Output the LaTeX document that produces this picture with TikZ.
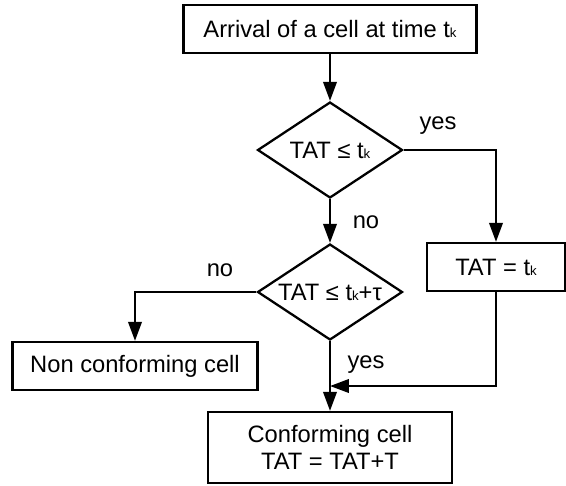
\documentclass[tikz,border=0pt]{standalone}
\usepackage{fontspec}
\setmainfont{Liberation Sans}
\usepackage{tikz}
\usetikzlibrary{shapes.geometric}
\usetikzlibrary{arrows.meta}

\newcommand{\tk}{t{\fontsize{7.5pt}{8pt}\selectfont k}}

\begin{document}
\begin{tikzpicture}[
			     x=0.02cm, y=-0.02cm,
			     every node/.style={font=\fontsize{13.5pt}{15.5pt}\selectfont},
			     stepbox/.style={draw, line width=1.3pt, inner sep=0pt, align=center},
			     test/.style={draw, diamond, line width=1.3pt, inner sep=0pt, minimum width=2.9cm, minimum height=1.92cm},
			     normal line/.style={-{Triangle[length=0.38cm,width=0.27cm]}, line width=1.3pt}
			     ] 
\useasboundingbox (0,0) rectangle (566,485);
% boxes and tests
\node[stepbox, minimum width=5.86cm, minimum height=0.96cm] (arrival) at (330,29) {Arrival of a cell at time \tk};
\node[test] (first) at (330,150) {\makebox[0pt]{TAT ≤ \tk}};
\node[test] (second) at (330,292) {\makebox[0pt]{TAT ≤ \tk+τ}};
\node[stepbox, minimum width=2.76cm, minimum height=0.96cm] (update) at (496,267) {TAT = \tk};
\node[stepbox, minimum width=4.9cm, minimum height=0.96cm] (nonconf) at (135,366) {Non conforming cell};
\node[stepbox, minimum width=4.88cm, minimum height=1.42cm] (conf) at (330,447.5) {Conforming cell\\TAT = TAT+T};
% answers
\node (yesA) at (438,126) {yes};
\node (noA) at (366,222) {no};
\node (noB) at (220,270) {no};
\node (yesB) at (366,365) {yes};
\coordinate (join) at (330,386);
% connectors
\draw[normal line] (arrival) -- (first);
\draw[normal line] (first.east) -| (update.north);
\draw[normal line] (first) -- (second);
\draw[normal line] (second.west) -| (nonconf.north);
\draw[normal line] (second) -- (conf);
\draw[normal line] (update.south) |- (join);
\end{tikzpicture}
\end{document}
